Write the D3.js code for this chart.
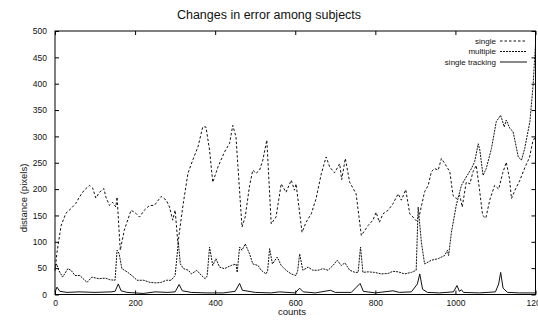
<!DOCTYPE html>
<html>
<head>
<meta charset="utf-8">
<script src="https://cdn.jsdelivr.net/npm/d3@7"></script>
<style>
  body { margin: 0; background: #fff; }
  svg text { font-family: "Liberation Sans", Arial, sans-serif; fill: #111; }
</style>
</head>
<body>
<svg id="svg" width="538" height="322"></svg>
<script>
// data
const singleX = [0, 5, 15, 27, 40, 52, 61, 73, 86, 94, 102, 111, 122, 127, 136, 144, 152, 155, 163, 173,
  190, 202, 211, 223, 236, 248, 265, 278, 286, 294, 300, 307, 319, 332, 344, 357, 369, 377, 386, 394,
  407, 423, 436, 444, 452, 467, 475, 486, 494, 502, 511, 519, 529, 540, 552, 565, 577, 590, 598, 602,
  617, 627, 640, 652, 665, 677, 686, 698, 711, 716, 725, 736, 752, 765, 782, 794, 802, 810, 819, 832,
  844, 857, 865, 876, 886, 894, 902, 910, 923, 932, 940, 948, 957, 965, 973, 986, 994, 1002, 1011, 1017,
  1027, 1036, 1044, 1052, 1060, 1068, 1076, 1086, 1098, 1108, 1118, 1127, 1135, 1140, 1150, 1160, 1173, 1185, 1193, 1200];
const singleY = [45, 80, 130, 154, 163, 173, 185, 198, 207, 202, 183, 194, 201, 185, 169, 175, 166, 185, 84, 122,
  160, 154, 147, 160, 169, 169, 186, 179, 166, 141, 160, 97, 166, 230, 255, 280, 318, 318, 274, 213,
  242, 270, 287, 321, 299, 128, 147, 207, 236, 230, 236, 255, 293, 134, 147, 210, 194, 217, 198, 210,
  118, 137, 153, 182, 229, 261, 242, 231, 248, 218, 258, 213, 191, 112, 131, 141, 156, 137, 153, 160,
  172, 191, 179, 199, 153, 147, 140, 150, 195, 207, 233, 239, 236, 258, 249, 233, 188, 182, 188, 166,
  213, 210, 233, 245, 200, 150, 145, 180, 207, 200, 230, 251, 220, 182, 200, 215, 240, 260, 290, 300];

const multipleX = [0, 4, 10, 19, 32, 40, 50, 62, 80, 92, 109, 126, 137, 150, 155, 160, 167, 180, 192, 205,
  222, 237, 253, 265, 278, 290, 300, 308, 313, 321, 333, 341, 354, 366, 375, 380, 386, 394, 402, 411,
  423, 440, 452, 455, 461, 467, 475, 486, 494, 507, 515, 527, 531, 536, 543, 555, 565, 577, 590, 602,
  606, 611, 619, 632, 644, 657, 669, 682, 694, 705, 715, 724, 736, 749, 757, 763, 769, 782, 798, 815,
  832, 844, 857, 873, 890, 902, 907, 915, 923, 940, 957, 973, 980, 983, 990, 1002, 1015, 1027, 1040, 1048,
  1057, 1061, 1069, 1077, 1090, 1102, 1113, 1122, 1127, 1136, 1144, 1157, 1165, 1173, 1186, 1194, 1200];
const multipleY = [50, 58, 45, 33, 49, 46, 36, 36, 23, 33, 30, 31, 28, 27, 84, 78, 49, 43, 36, 27,
  27, 23, 22, 23, 27, 27, 36, 99, 58, 49, 46, 39, 46, 36, 30, 35, 90, 55, 68, 52,
  49, 55, 58, 42, 90, 84, 96, 77, 58, 55, 46, 39, 45, 87, 58, 71, 55, 46, 39, 36,
  45, 77, 46, 52, 46, 46, 49, 46, 55, 65, 55, 60, 46, 42, 42, 90, 42, 43, 42, 39,
  40, 44, 43, 39, 42, 46, 166, 99, 58, 65, 68, 74, 84, 74, 118, 169, 207, 223, 239, 252,
  286, 274, 226, 239, 277, 328, 340, 318, 331, 315, 309, 261, 255, 277, 328, 397, 475];

const trackingX = [0, 5, 12, 30, 60, 100, 140, 150, 158, 165, 180, 220, 250, 280, 300, 310, 318, 340, 380, 420,
  450, 461, 468, 500, 540, 560, 600, 611, 620, 650, 688, 700, 740, 762, 770, 800, 844, 860, 890, 905,
  911, 918, 930, 960, 995, 1004, 1010, 1015, 1020, 1060, 1100, 1108, 1113, 1119, 1130, 1160, 1200];
const trackingY = [5, 14, 6, 4, 5, 4, 5, 6, 20, 7, 4, 2, 5, 4, 5, 19, 7, 4, 3, 3,
  6, 21, 8, 4, 3, 5, 3, 12, 5, 3, 8, 4, 4, 21, 6, 3, 7, 4, 5, 20,
  39, 10, 4, 3, 5, 17, 6, 9, 4, 3, 5, 20, 42, 12, 4, 3, 3];

const xTicks = [0, 200, 400, 600, 800, 1000, 1200];
const yTicks = [0, 50, 100, 150, 200, 250, 300, 350, 400, 450, 500];

const series = [
  {name: "single", xs: singleX, ys: singleY, dash: "2.5,2"},
  {name: "multiple", xs: multipleX, ys: multipleY, dash: "2,1"},
  {name: "single tracking", xs: trackingX, ys: trackingY, dash: null}
];

const svg = d3.select("#svg");
const mLeft = 55, mRight = 535.5, mTop = 31, mBottom = 294.5;

const x = d3.scaleLinear().domain([0, 1200]).range([mLeft, mRight]);
const y = d3.scaleLinear().domain([0, 500]).range([mBottom, mTop]);

// title and axis names
svg.append("text").attr("x", 269).attr("y", 19).attr("text-anchor", "middle")
   .style("font-size", "12.5px").text("Changes in error among subjects");
svg.append("text").attr("x", 292).attr("y", 315).attr("text-anchor", "middle")
   .style("font-size", "9.5px").text("counts");
svg.append("text").attr("transform", "translate(27,198) rotate(-90)").attr("text-anchor", "middle")
   .style("font-size", "9.5px").text("distance (pixels)");

// axes, ticks pointing inward like gnuplot
function styleAxis(g) {
  g.select(".domain").remove();
  g.selectAll(".tick line").attr("stroke", "#000");
  g.selectAll("text").style("font-size", "8.5px").style("font-family", "'Liberation Sans', Arial, sans-serif");
}
svg.append("g").attr("transform", `translate(0,${mBottom})`)
   .call(d3.axisBottom(x).tickValues(xTicks).tickFormat(d3.format("d")).tickSize(-4).tickPadding(5)).call(styleAxis);
svg.append("g").attr("transform", `translate(0,${mTop})`)
   .call(d3.axisTop(x).tickValues(xTicks).tickSize(-4).tickFormat("")).call(styleAxis);
svg.append("g").attr("transform", `translate(${mLeft},0)`)
   .call(d3.axisLeft(y).tickValues(yTicks).tickFormat(d3.format("d")).tickSize(-4).tickPadding(8)).call(styleAxis);
svg.append("g").attr("transform", `translate(${mRight},0)`)
   .call(d3.axisRight(y).tickValues(yTicks).tickSize(-4).tickFormat("")).call(styleAxis);

svg.append("rect").attr("x", mLeft).attr("y", mTop)
   .attr("width", mRight - mLeft).attr("height", mBottom - mTop)
   .attr("fill", "none").attr("stroke", "#000").attr("stroke-width", 1);

// the three lines
const line = d3.line().x(d => x(d[0])).y(d => y(d[1]));
series.forEach(s => {
  const pts = s.xs.map((v, i) => [v, s.ys[i]]);
  svg.append("path").datum(pts)
     .attr("d", line)
     .attr("fill", "none")
     .attr("stroke", "#111")
     .attr("stroke-width", 1)
     .attr("stroke-dasharray", s.dash);
});

// legend top right
series.forEach((s, i) => {
  const ly = 41 + i * 10.5;
  svg.append("text").attr("x", 496).attr("y", ly).attr("dy", "0.32em")
     .attr("text-anchor", "end").style("font-size", "8px").text(s.name);
  svg.append("line").attr("x1", 500).attr("x2", 527).attr("y1", ly).attr("y2", ly)
     .attr("stroke", "#111").attr("stroke-width", 1).attr("stroke-dasharray", s.dash);
});
</script>
</body>
</html>
